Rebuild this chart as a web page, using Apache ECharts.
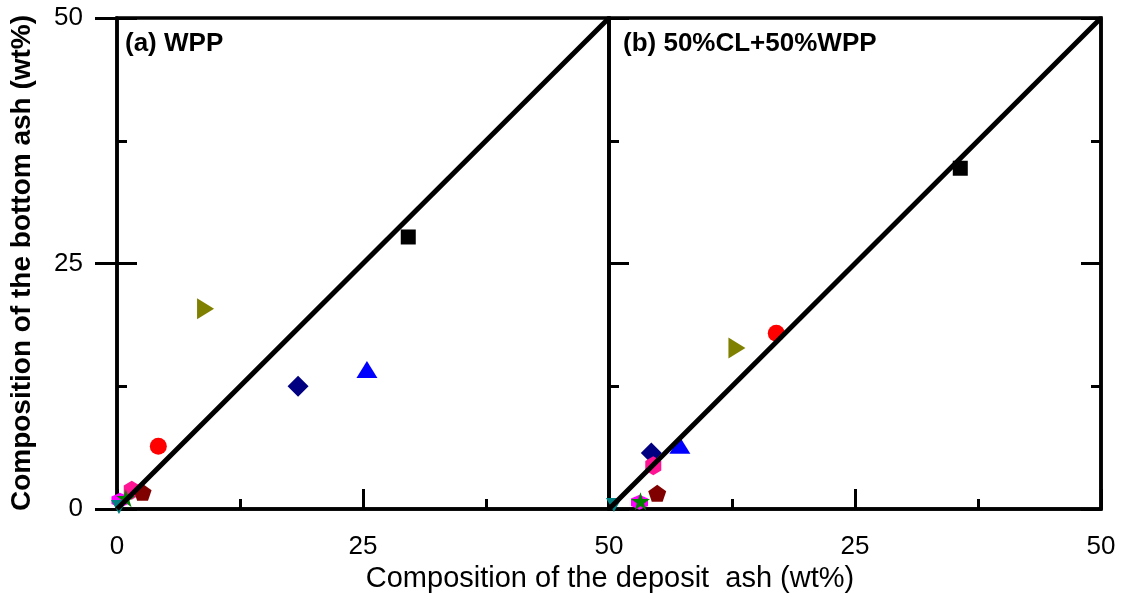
<!DOCTYPE html>
<html>
<head>
<meta charset="utf-8">
<script src="https://cdn.jsdelivr.net/npm/echarts@6/dist/echarts.min.js"></script>
<style>
html,body{margin:0;padding:0;background:#fff;}
#chart{width:1123px;height:598px;}
</style>
</head>
<body>
<div id="chart"></div>
<script>
// ---- data ----
const speciesNames = ['S1','S2','S3','S4','S5','S6','S7','S8','S9','S10'];
const panelTitles = ['(a) WPP', '(b) 50%CL+50%WPP'];
const tickValues = [0, 25, 50];
// panel (a) WPP
const wppDeposit = [29.6, 4.2, 25.4, 18.4, 9.0, 1.5, 2.6, 0.9, 0.3, 0.2];
const wppBottom  = [27.7, 6.4, 14.2, 12.5, 20.4, 1.9, 1.7, 1.1, 0.9, 0.2];
// panel (b) 50%CL+50%WPP
const mixDeposit = [35.7, 17.0, 7.2, 4.3, 13.0, 4.5, 4.9, 3.2, 3.1, 0.5];
const mixBottom  = [34.7, 17.9, 6.5, 5.7, 16.4, 4.4, 1.6, 0.8, 0.7, 0.4];
const parityLine = [[0, 0], [50, 50]];

// ---- styles ----
const colors = ['#000000','#ff0000','#0000ff','#000080','#808000','#ff1493','#800000','#008000','#ff00ff','#008080'];
const symbols = [
  'rect', 'circle', 'triangle', 'diamond',
  'path://M0,0 L100,50 L0,100 Z',
  'path://M50,0 L93,25 L93,75 L50,100 L7,75 L7,25 Z',
  'path://M50,0 L98,35 L79,91 L21,91 L2,35 Z',
  'path://M50,0 L61,35 L98,35 L68,57 L79,91 L50,70 L21,91 L32,57 L2,35 L39,35 Z',
  'path://M50,0 L93,25 L93,75 L50,100 L7,75 L7,25 Z',
  'path://M0,0 L100,0 L50,100 Z'
];
const sizes = [[15,15],[17,17],[21,17],[21,21],[17,21],[16,19],[18,17],[19,18],[17,15],[16,14]];

const FONT = 'Liberation Sans, Arial, sans-serif';

function xAxisCfg(gi, showMin) {
  return {
    gridIndex: gi, type: 'value', min: 0, max: 50, interval: 25,
    axisLine: {show: true, onZero: false, lineStyle: {color: '#000', width: 3.5}},
    axisTick: {show: true, inside: true, length: 20, lineStyle: {color: '#000', width: 3}},
    minorTick: {show: true, splitNumber: 2, length: 10, lineStyle: {color: '#000', width: 3}},
    splitLine: {show: false},
    axisLabel: {show: true, color: '#000', fontSize: 26, fontFamily: FONT, margin: 25,
      showMinLabel: showMin, showMaxLabel: true}
  };
}
function yAxisCfg(gi, pos) {
  return {
    gridIndex: gi, type: 'value', min: 0, max: 50, interval: 25, position: pos,
    axisLine: {show: true, onZero: false, lineStyle: {color: '#000', width: 3.5}},
    axisTick: {show: true, inside: true, length: 20, lineStyle: {color: '#000', width: 3}},
    minorTick: {show: true, splitNumber: 2, length: 10, lineStyle: {color: '#000', width: 3}},
    splitLine: {show: false},
    axisLabel: {show: false}
  };
}
// outer tick marks + labels of the left axis in panel (a)
const yOuter = {
  gridIndex: 0, type: 'value', min: 0, max: 50, interval: 25, position: 'left',
  axisLine: {show: false},
  axisTick: {show: true, inside: false, length: 22, lineStyle: {color: '#000', width: 3}},
  minorTick: {show: false},
  splitLine: {show: false},
  axisLabel: {show: true, color: '#000', fontSize: 26, fontFamily: FONT, margin: 34}
};

function panelSeries(xi, yi, xs, ys) {
  const out = speciesNames.map((n, i) => ({
    name: n, type: 'scatter', xAxisIndex: xi, yAxisIndex: yi,
    symbol: symbols[i], symbolSize: sizes[i],
    itemStyle: {color: colors[i], opacity: 1},
    data: [[xs[i], ys[i]]], z: 2, clip: false
  }));
  // magenta drawn beneath the star
  const mag = out.splice(8, 1)[0];
  out.splice(7, 0, mag);
  out.push({
    type: 'line', xAxisIndex: xi, yAxisIndex: yi, data: parityLine,
    showSymbol: false, symbol: 'none', lineStyle: {color: '#000', width: 5}, z: 3
  });
  return out;
}

const chart = echarts.init(document.getElementById('chart'), null, {renderer: 'canvas'});
chart.setOption({
  animation: false,
  backgroundColor: '#fff',
  grid: [
    {left: 117, right: 514, top: 18, bottom: 89, show: true, borderColor: '#000', borderWidth: 3.5, backgroundColor: 'transparent'},
    {left: 609, right: 22, top: 18, bottom: 89, show: true, borderColor: '#000', borderWidth: 3.5, backgroundColor: 'transparent'}
  ],
  xAxis: [xAxisCfg(0, true), xAxisCfg(1, false)],
  yAxis: [yAxisCfg(0, 'left'), yAxisCfg(1, 'left'), yAxisCfg(1, 'right'), yOuter],
  title: [
    {text: panelTitles[0], left: 125, top: 31, padding: 0, textStyle: {fontFamily: FONT, fontWeight: 'bold', fontSize: 26, color: '#000'}},
    {text: panelTitles[1], left: 623, top: 31, padding: 0, textStyle: {fontFamily: FONT, fontWeight: 'bold', fontSize: 26, color: '#000'}}
  ],
  graphic: [
    {type: 'text', x: 610, y: 579,
      style: {text: 'Composition of the deposit  ash (wt%)', fontFamily: FONT, fontSize: 29, fill: '#000', align: 'center', verticalAlign: 'middle'}},
    {type: 'text', x: 22, y: 263, rotation: Math.PI / 2,
      style: {text: 'Composition of the bottom ash (wt%)', fontFamily: FONT, fontWeight: 'bold', fontSize: 28, fill: '#000', align: 'center', verticalAlign: 'middle'}}
  ],
  series: [].concat(
    panelSeries(0, 0, wppDeposit, wppBottom),
    panelSeries(1, 1, mixDeposit, mixBottom)
  )
});
</script>
</body>
</html>
